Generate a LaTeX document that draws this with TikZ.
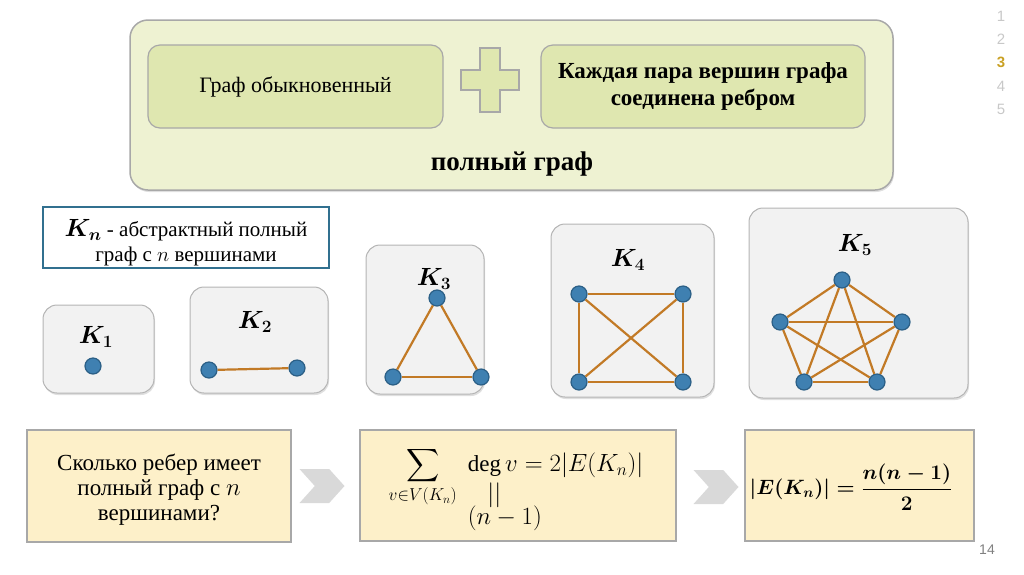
\documentclass[tikz,border=0pt]{standalone}
\usepackage{amsmath,amssymb}
\usepackage{fontspec}
\setmainfont{Liberation Serif}
\newfontfamily\numfont{Liberation Sans}
\usetikzlibrary{positioning,shapes.symbols,shadows}
\definecolor{gouter}{HTML}{EEF2D2}
\definecolor{ginner}{HTML}{DFE7B0}
\definecolor{gline}{HTML}{A8A8A8}
\definecolor{kfill}{HTML}{F2F2F2}
\definecolor{kline}{HTML}{B4B4B4}
\definecolor{knline}{HTML}{31708F}
\definecolor{vblue}{HTML}{3F80B1}
\definecolor{vdark}{HTML}{2B5F86}
\definecolor{eorange}{HTML}{C27A26}
\definecolor{yfill}{HTML}{FDF0C9}
\definecolor{chgray}{HTML}{D9D9D9}
\definecolor{sgold}{HTML}{C9A023}
\definecolor{sgray}{HTML}{C8C8C8}

\begin{document}
\begin{tikzpicture}[x=1pt, y=-1pt,
    outerbox/.style={rectangle, rounded corners=18pt, fill=gouter, draw=gline, line width=1.5pt,
        drop shadow={shadow xshift=1pt, shadow yshift=-2pt, opacity=0.25}},
    innerbox/.style={rectangle, rounded corners=12pt, fill=ginner, draw=gline, line width=1.2pt, align=center},
    kbox/.style={rectangle, rounded corners=14pt, fill=kfill, draw=kline, line width=1pt,
        drop shadow={shadow xshift=1pt, shadow yshift=-2pt, opacity=0.25}},
    klabel/.style={font=\fontsize{26}{30}\selectfont},
    vtx/.style={circle, minimum size=16pt, inner sep=0pt, fill=vblue, draw=vdark, line width=1.2pt},
    edg/.style={draw=eorange, line width=2.2pt},
    qbox/.style={rectangle, fill=yfill, draw=gline, line width=1.5pt},
    qtext/.style={align=center, font=\fontsize{23}{25}\selectfont},
    chev/.style={signal, signal from=west, signal to=east, signal pointer angle=96, fill=chgray,
        inner sep=0pt, minimum width=45pt, minimum height=34pt},
    snum/.style={font=\numfont\fontsize{15}{15}\selectfont, text=sgray}
]
\useasboundingbox (0,0) rectangle (1024,574);

% top block
\node[outerbox, minimum width=763pt, minimum height=170pt] (top) at (511.5,105) {};
\node[innerbox, minimum width=295pt, minimum height=83pt, font=\fontsize{22}{26}\selectfont]
    (ordinary) at (295.5,86.5) {Граф обыкновенный};
\node[innerbox, minimum width=324pt, minimum height=83pt, font=\bfseries\fontsize{23}{27}\selectfont]
    (eachpair) at (703,86.5) {Каждая пара вершин графа\\соединена ребром};
\draw[fill=ginner, draw=gline, line width=1.2pt, shift={(490,80)}]
    (-10,-32) -- (10,-32) -- (10,-10) -- (29,-10) -- (29,10) -- (10,10) -- (10,32)
    -- (-10,32) -- (-10,10) -- (-29,10) -- (-29,-10) -- (-10,-10) -- cycle;
\node[font=\bfseries\fontsize{27}{30}\selectfont] (full) at (512,164) {полный граф};

% definition
\node[rectangle, fill=white, draw=knline, line width=2pt, minimum width=286pt, minimum height=61pt] (kn) at (186,237.5) {};
\node[align=center, font=\fontsize{21}{25}\selectfont] (kntext) at (186,243)
    {{\fontsize{25}{25}\selectfont$\boldsymbol{K_n}$} - абстрактный полный\\граф с $n$ вершинами};

% complete graphs
\node[kbox, minimum width=111pt, minimum height=88pt] (k1box) at (98.5,349) {};
\node[kbox, minimum width=138pt, minimum height=106pt] (k2box) at (259,340) {};
\node[kbox, minimum width=118pt, minimum height=149pt] (k3box) at (425,319.5) {};
\node[kbox, minimum width=163pt, minimum height=173pt] (k4box) at (632.5,310.5) {};
\node[kbox, minimum width=219pt, minimum height=190pt] (k5box) at (858.5,303) {};

\node[klabel] (k1lab) at (96,337) {$\boldsymbol{K_1}$};
\node[klabel] (k2lab) at (255,322) {$\boldsymbol{K_2}$};
\node[klabel] (k3lab) at (434,279) {$\boldsymbol{K_3}$};
\node[klabel] (k4lab) at (628,260) {$\boldsymbol{K_4}$};
\node[klabel] (k5lab) at (855,245) {$\boldsymbol{K_5}$};

\node[vtx] (a1) at (93,366) {};

\node[vtx] (b1) at (209,370) {};
\node[vtx] (b2) at (297,368) {};
\draw[edg] (b1) -- (b2);

\node[vtx] (c1) at (437,298) {};
\node[vtx] (c2) at (393,377) {};
\node[vtx] (c3) at (481,377) {};
\foreach \u/\v in {c1/c2, c2/c3, c3/c1}
    \draw[edg] (\u) -- (\v);

\node[vtx] (d1) at (579,294) {};
\node[vtx] (d2) at (683,294) {};
\node[vtx] (d3) at (683,382) {};
\node[vtx] (d4) at (579,382) {};
\foreach \u/\v in {d1/d2, d2/d3, d3/d4, d4/d1, d1/d3, d2/d4}
    \draw[edg] (\u) -- (\v);

\node[vtx] (e1) at (842,280) {};
\node[vtx] (e2) at (902,322) {};
\node[vtx] (e3) at (877,382) {};
\node[vtx] (e4) at (804,382) {};
\node[vtx] (e5) at (780,322) {};
\foreach \u/\v in {e1/e2, e1/e3, e1/e4, e1/e5, e2/e3, e2/e4, e2/e5, e3/e4, e3/e5, e4/e5}
    \draw[edg] (\u) -- (\v);

% bottom row
\node[qbox, minimum width=264pt, minimum height=112pt] (ask) at (159,486) {};
\node[qtext] (asktext) at (159,490) {Сколько ребер имеет\\полный граф с $n$\\вершинами?};
\node[chev] (ch1) at (322,486) {};
\node[qbox, minimum width=316pt, minimum height=111pt] (sum) at (518,485.5) {};
\node[font=\fontsize{23}{27}\selectfont] (sumtext) at (516,490)
    {$\displaystyle\sum_{v\in V(K_n)}\;\begin{array}[t]{@{}l@{}}\deg v = 2|E(K_n)|\\[3pt] \hspace{0.85em}||\\[-4pt] (n-1)\end{array}$};
\node[chev] (ch2) at (716,487) {};
\node[qbox, minimum width=229pt, minimum height=111pt] (answer) at (859.5,485.5) {};
\node[font=\fontsize{20}{24}\selectfont] (answertext) at (851,487)
    {$\boldsymbol{|E(K_n)| = \dfrac{n(n-1)}{2}}$};

% slide numbers
\node[snum] (sn1) at (1001,16) {1};
\node[snum] (sn2) at (1001,39) {2};
\node[snum, font=\numfont\bfseries\fontsize{15}{15}\selectfont, text=sgold] (sn3) at (1001,62) {3};
\node[snum] (sn4) at (1001,86) {4};
\node[snum] (sn5) at (1001,109) {5};
\node[font=\numfont\fontsize{14}{14}\selectfont, text=gray] (page) at (987,550) {14};
\end{tikzpicture}
\end{document}
